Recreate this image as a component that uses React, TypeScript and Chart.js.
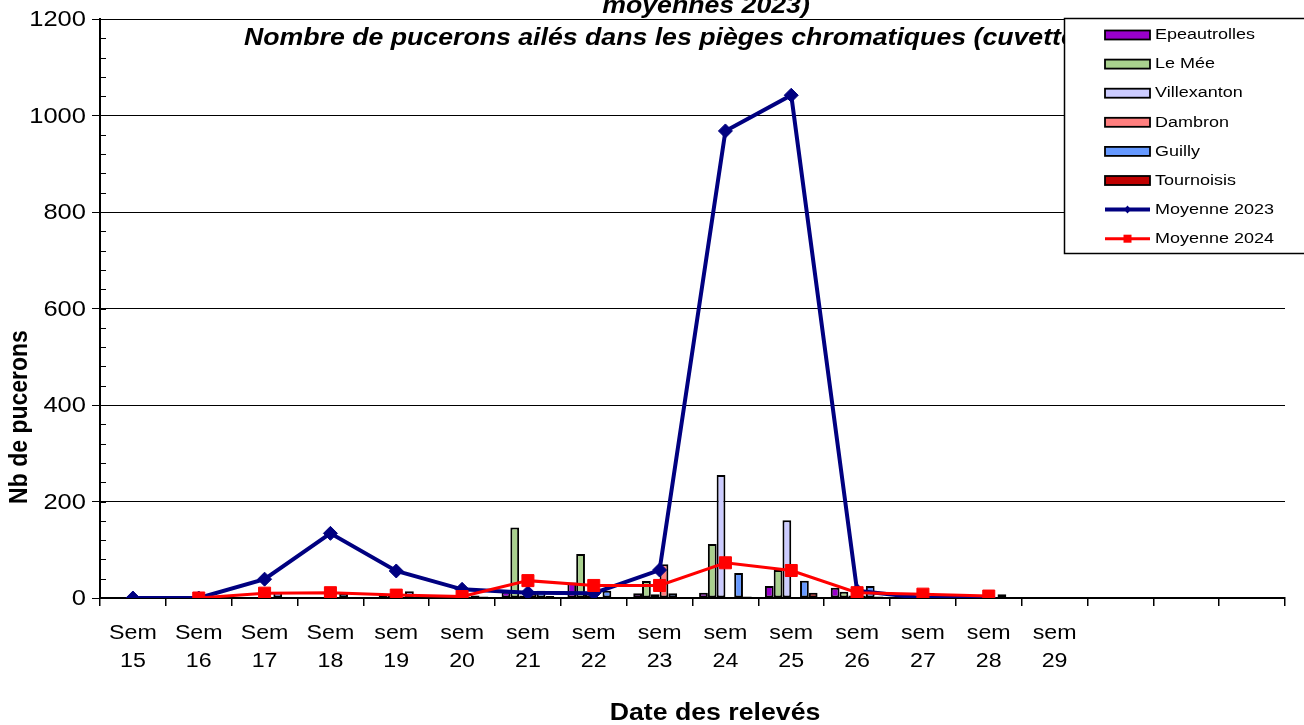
import React, { useEffect, useRef } from 'react';
import { Chart, registerables } from 'chart.js';

Chart.register(...registerables);

// ---- Data ----
const categories = [
  'Sem 15', 'Sem 16', 'Sem 17', 'Sem 18', 'sem 19', 'sem 20', 'sem 21', 'sem 22',
  'sem 23', 'sem 24', 'sem 25', 'sem 26', 'sem 27', 'sem 28', 'sem 29', '', '', '',
];

const epeautrolles = [0, 0, 0, 0, 0, 2, 13, 32, 10, 11, 25, 21, 8, 0, null, null, null, null];
const leMee = [0, 0, 0, 0, 8, 3, 146, 91, 35, 112, 58, 13, 0, 0, null, null, null, null];
const villexanton = [0, 0, 0, 0, 8, 5, 5, 10, 8, 255, 161, 5, 0, 0, null, null, null, null];
const dambron = [0, 0, 0, 0, 0, 3, 10, 0, 70, 0, 0, 5, 0, 0, null, null, null, null];
const guilly = [0, 0, 12, 10, 14, 5, 15, 15, 10, 52, 36, 25, 8, 8, null, null, null, null];
const tournoisis = [0, 0, 0, 0, 0, 3, 4, 0, 0, 3, 11, 3, 5, 0, null, null, null, null];
const moyenne2023 = [0, 0, 39, 134, 56, 18, 11, 10, 58, 968, 1042, 15, 0, 0, null, null, null, null];
const moyenne2024 = [null, 0, 10, 11, 6, 3, 36, 26, 26, 73, 57, 11, 8, 4, null, null, null, null];

const yTicks = { min: 0, max: 1200, step: 200, minorStep: 40 };

const titleLine1 = 'moyennes 2023)';
const titleLine2 = 'Nombre de pucerons ailés dans les pièges chromatiques (cuvettes jaunes)';
const xTitle = 'Date des relevés';
const yTitle = 'Nb de pucerons';

const SX = 1.16; // horizontal stretch of text in reference
const FONT = '"Liberation Sans", Arial, sans-serif';

function drawText(
  ctx: CanvasRenderingContext2D,
  text: string,
  x: number,
  y: number,
  font: string,
  align: CanvasTextAlign,
  baseline: CanvasTextBaseline,
  rotate = 0
) {
  ctx.save();
  ctx.translate(x, y);
  ctx.scale(SX, 1);
  if (rotate) ctx.rotate(rotate);
  ctx.font = font;
  ctx.textAlign = align;
  ctx.textBaseline = baseline;
  ctx.fillStyle = '#000';
  ctx.fillText(text, 0, 0);
  ctx.restore();
}

const decorPlugin = {
  id: 'decor',
  afterDraw(chart: any) {
    const ctx: CanvasRenderingContext2D = chart.ctx;
    const ys = chart.scales.y;
    const xs = chart.scales.x;
    const area = chart.chartArea;

    // minor ticks on y (inside)
    ctx.save();
    ctx.strokeStyle = '#000';
    ctx.lineWidth = 1;
    for (let v = yTicks.min; v <= yTicks.max; v += yTicks.minorStep) {
      const py = Math.round(ys.getPixelForValue(v)) + 0.5;
      ctx.beginPath();
      ctx.moveTo(area.left, py);
      ctx.lineTo(area.left + 6, py);
      ctx.stroke();
    }
    ctx.restore();

    // y tick labels
    ys.ticks.forEach((t: any) => {
      const py = ys.getPixelForValue(t.value);
      drawText(ctx, String(t.value), 86, py + 1, `22px ${FONT}`, 'right', 'middle');
    });

    // x labels
    categories.forEach((c, i) => {
      if (!c) return;
      const px = xs.getPixelForValue(i);
      const parts = c.split(' ');
      drawText(ctx, parts[0], px, 639, `20px ${FONT}`, 'center', 'alphabetic');
      drawText(ctx, parts[1], px, 667, `20px ${FONT}`, 'center', 'alphabetic');
    });

    // axis titles
    drawText(ctx, xTitle, 715, 720, `bold 23px ${FONT}`, 'center', 'alphabetic');
    drawText(ctx, yTitle, 20, 417, `bold 23px ${FONT}`, 'center', 'middle', -Math.PI / 2);

    // chart title
    drawText(ctx, titleLine1, 706, 13, `italic bold 23px ${FONT}`, 'center', 'alphabetic');
    drawText(ctx, titleLine2, 244, 45, `italic bold 23px ${FONT}`, 'left', 'alphabetic');

    // legend
    const lx = 1064, ly = 18, lw = 260, lh = 235;
    ctx.save();
    ctx.fillStyle = '#fff';
    ctx.fillRect(lx, ly, lw, lh);
    ctx.strokeStyle = '#000';
    ctx.lineWidth = 1.5;
    ctx.strokeRect(lx + 0.5, ly + 0.5, lw, lh);
    ctx.restore();

    chart.data.datasets.forEach((ds: any, i: number) => {
      const cy = 35 + i * 29.1;
      const sx = 1105, sw = 45;
      ctx.save();
      if (ds.type === 'bar') {
        ctx.fillStyle = ds.backgroundColor;
        ctx.fillRect(sx, cy - 4.5, sw, 9);
        ctx.strokeStyle = '#000';
        ctx.lineWidth = 1.8;
        ctx.strokeRect(sx, cy - 4.5, sw, 9);
      } else {
        ctx.strokeStyle = ds.borderColor;
        ctx.lineWidth = ds.borderWidth;
        ctx.beginPath();
        ctx.moveTo(sx, cy);
        ctx.lineTo(sx + sw, cy);
        ctx.stroke();
        ctx.fillStyle = ds.borderColor;
        const mx = sx + sw / 2;
        if (ds.pointStyle === 'rectRot') {
          ctx.beginPath();
          ctx.moveTo(mx, cy - 4);
          ctx.lineTo(mx + 3.5, cy);
          ctx.lineTo(mx, cy + 4);
          ctx.lineTo(mx - 3.5, cy);
          ctx.closePath();
          ctx.fill();
        } else {
          ctx.fillRect(mx - 4, cy - 4, 8, 8);
        }
      }
      ctx.restore();
      drawText(ctx, ds.label, 1155, cy, `15.5px ${FONT}`, 'left', 'middle');
    });
  },
};

function barDs(label: string, data: (number | null)[], color: string) {
  return {
    type: 'bar' as const,
    label,
    data,
    backgroundColor: color,
    borderColor: '#000',
    borderWidth: 2,
    borderSkipped: false,
    categoryPercentage: 0.8,
    barPercentage: 1.0,
    order: 2,
  };
}

export default function App() {
  const ref = useRef<HTMLCanvasElement>(null);

  useEffect(() => {
    document.body.style.margin = '0';
    const canvas = ref.current!;
    const chart = new Chart(canvas, {
      type: 'bar',
      data: {
        labels: categories,
        datasets: [
          barDs('Epeautrolles', epeautrolles, '#9900CC'),
          barDs('Le Mée', leMee, '#A9D18E'),
          barDs('Villexanton', villexanton, '#CCCCFF'),
          barDs('Dambron', dambron, '#FF7F7F'),
          barDs('Guilly', guilly, '#6699FF'),
          barDs('Tournoisis', tournoisis, '#C00000'),
          {
            type: 'line' as const,
            label: 'Moyenne 2023',
            data: moyenne2023,
            borderColor: '#000080',
            backgroundColor: '#000080',
            borderWidth: 4,
            pointStyle: 'rectRot',
            pointRadius: 7,
            pointBackgroundColor: '#000080',
            pointBorderColor: '#000080',
            pointBorderWidth: 1,
            tension: 0,
            spanGaps: false,
            order: 1,
          } as any,
          {
            type: 'line' as const,
            label: 'Moyenne 2024',
            data: moyenne2024,
            borderColor: '#FF0000',
            backgroundColor: '#FF0000',
            borderWidth: 3,
            pointStyle: 'rect',
            pointRadius: 8.5,
            pointBackgroundColor: '#FF0000',
            pointBorderColor: '#FF0000',
            pointBorderWidth: 1,
            tension: 0,
            spanGaps: false,
            order: 0,
          } as any,
        ],
      },
      options: {
        responsive: false,
        animation: false,
        layout: { padding: { top: 19, right: 19, left: 0, bottom: 0 } },
        plugins: {
          legend: { display: false },
          title: { display: false },
          tooltip: { enabled: false },
        },
        scales: {
          x: {
            offset: true,
            grid: {
              offset: true,
              drawOnChartArea: false,
              drawTicks: true,
              tickLength: 8,
              color: '#000',
              lineWidth: 1.5,
            },
            border: { display: true, color: '#000', width: 2 },
            ticks: { display: false },
            afterFit: (s: any) => { s.height = 127; },
          },
          y: {
            min: yTicks.min,
            max: yTicks.max,
            ticks: { display: false, stepSize: yTicks.step },
            grid: {
              color: '#000',
              lineWidth: 1,
              drawTicks: true,
              tickLength: 8,
            },
            border: { display: true, color: '#000', width: 2 },
            afterFit: (s: any) => { s.width = 100; },
          },
        },
      } as any,
      plugins: [decorPlugin],
    });
    return () => chart.destroy();
  }, []);

  return (
    <div style={{ width: 1304, height: 725, background: '#fff' }}>
      <canvas ref={ref} width={1304} height={725} style={{ display: 'block' }} />
    </div>
  );
}
